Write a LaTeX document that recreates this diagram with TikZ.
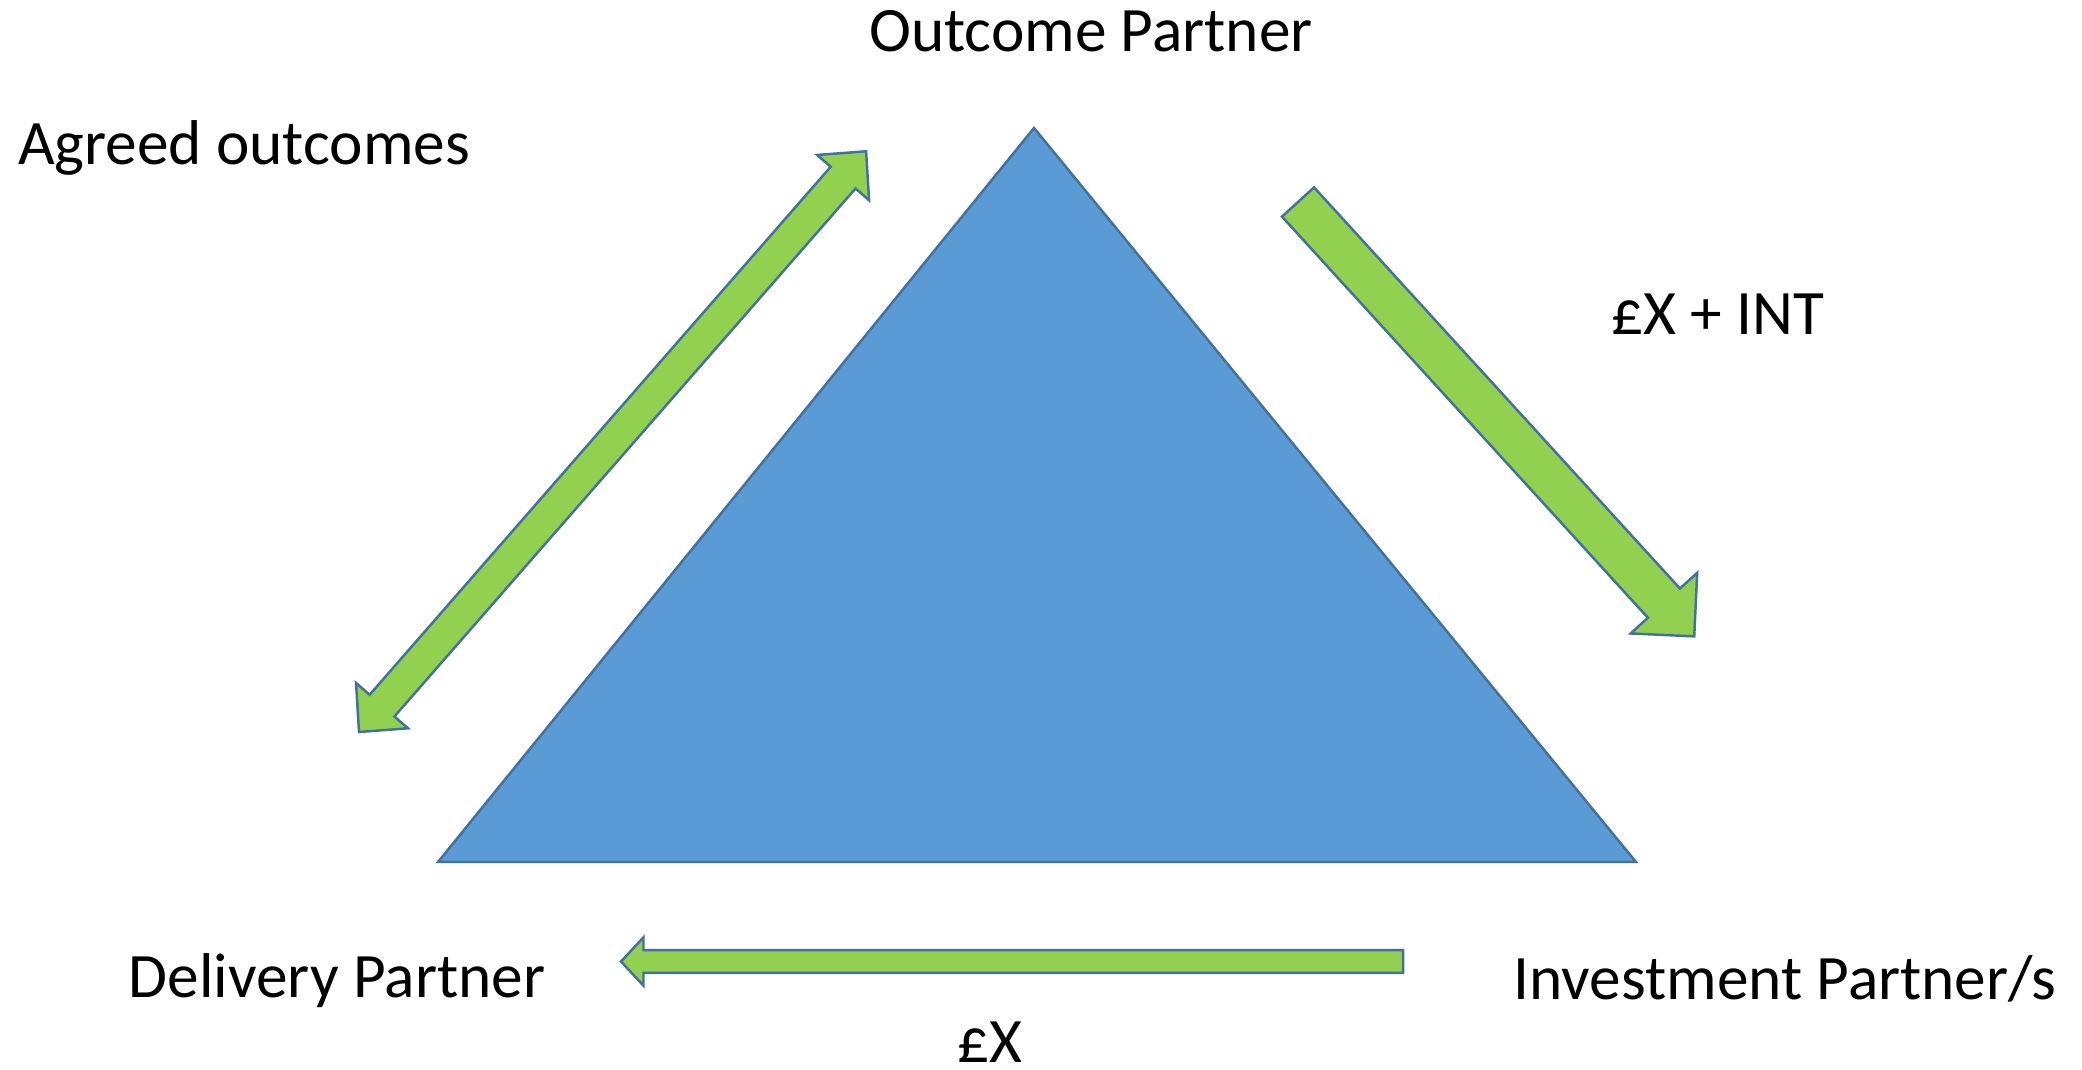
\documentclass[tikz,border=0pt]{standalone}
\usepackage{fontspec}
\setmainfont{Carlito}
\definecolor{arrowgreen}{HTML}{92D050}
\definecolor{triblue}{HTML}{5B9BD5}
\definecolor{edgeblue}{HTML}{41719C}
\begin{document}
\begin{tikzpicture}
  [x=0.01cm,y=0.01cm,
   every node/.style={font=\fontsize{18}{21.6}\selectfont,inner sep=0pt,anchor=base},
   fat/.style={fill=arrowgreen,draw=edgeblue,line width=0.7pt}]
  \useasboundingbox (0,0) rectangle (2082,1069);

  % the triangle
  \coordinate (top) at (1034,941);
  \coordinate (right) at (1636,207);
  \coordinate (left) at (438,207);
  \draw[fill=triblue,draw=edgeblue,line width=0.7pt] (top) -- (right) -- (left) -- cycle;

  % labels
  \node (outcome) at (1091,1017) {Outcome Partner};
  \node (agreed) at (244,904) {Agreed outcomes};
  \node (int) at (1718,734) {£X + INT};
  \node (delivery) at (337,72) {Delivery Partner};
  \node (investment) at (1785,70) {Investment Partner/s};
  \node (money) at (990,7) {£X};

  % agreed outcomes, both ways
  \begin{scope}[shift={(359,337)},rotate=48.87]
    \draw[fat] (0,0) -- (35,34.5) -- (35,16.5) -- (736,16.5) -- (736,34.5) -- (771,0)
      -- (736,-34.5) -- (736,-16.5) -- (35,-16.5) -- (35,-34.5) -- cycle;
  \end{scope}

  % repayment to investors
  \begin{scope}[shift={(1298,867)},rotate=-47.63]
    \draw[fat] (0,21.7) -- (543,21.7) -- (543,45) -- (588,0)
      -- (543,-45) -- (543,-21.7) -- (0,-21.7) -- cycle;
  \end{scope}

  % investment to delivery
  \begin{scope}[shift={(1403,107.5)},rotate=180]
    \draw[fat] (0,11.4) -- (759.5,11.4) -- (759.5,24.2) -- (782,0)
      -- (759.5,-24.2) -- (759.5,-11.4) -- (0,-11.4) -- cycle;
  \end{scope}

\end{tikzpicture}
\end{document}
